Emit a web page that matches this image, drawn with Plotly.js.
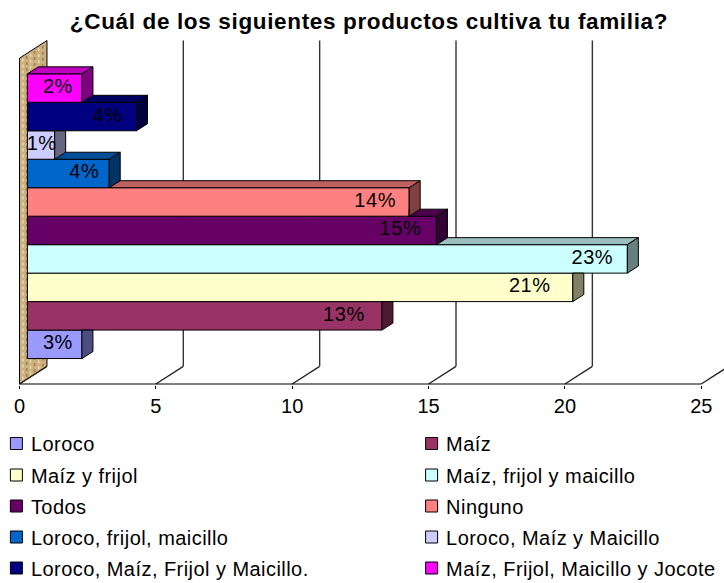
<!DOCTYPE html>
<html><head><meta charset="utf-8">
<script src="https://cdn.plot.ly/plotly-3.0.1.min.js"></script>
<style>html,body{margin:0;padding:0;background:#fff}
text[class*="legend"]{transform:translateX(-5.5px);letter-spacing:.45px}
.textpoint text{letter-spacing:.6px}
.gtitle{letter-spacing:.65px}
</style></head>
<body><div id="chart" style="width:724px;height:583px"></div>
<script>
const categories = ["Loroco","Maíz","Maíz y frijol","Maíz, frijol y maicillo","Todos","Ninguno","Loroco, frijol, maicillo","Loroco, Maíz y Maicillo","Loroco, Maíz, Frijol y Maicillo.","Maíz, Frijol, Maicillo y Jocote"];
const values = [2,13,20,22,15,14,3,1,4,2];
const percentLabels = ["3%","13%","21%","23%","15%","14%","4%","1%","4%","2%"];
const frontColors = ["#9999FF","#993366","#FFFFCC","#CCFFFF","#660066","#FF8080","#0066CC","#CCCCFF","#000080","#FF00FF"];
const topColors = ["#7373BF","#732640","#BFBF99","#99BFBF","#4D004D","#BF6060","#004D99","#9999BF","#000060","#BF00BF"];
const sideColors = ["#4D4D80","#4D1A33","#808066","#668080","#330033","#804040","#003366","#666680","#000040","#800080"];
const xTicks = [0,5,10,15,20,25];
const labelInsetPx = [24,38,43,35,36,34,25,13,29,24];

// scale: 27.27 px per axis unit, 28.47 px per band
const PXX = 27.27, PXY = 28.47;
const floorY = -1.394, wallTopFront = 10.05;
const depthX = 1.007, depthY = 0.62;
const barStart = 0.29, barDepthX = 0.403, barDepthY = 0.246, half = 0.5;

const traces = [];
// front faces: real bars
values.forEach((v,i)=>{
  traces.push({type:'bar',orientation:'h',x:[v],y:[i],base:[barStart],width:[2*half],name:categories[i],
    marker:{color:frontColors[i],line:{color:'#000',width:1}},
    legend:i===0?'legend':'legend'+(i+1),hoverinfo:'name+x'});
});
// top and side faces, bottom bar first
values.forEach((v,i)=>{
  const x1=v+barStart, yb=i-half, yt=i+half;
  const up = i<values.length-1 ? values[i+1]+barStart : null;
  let tx=null, ty=null;
  if(up===null){
    tx=[barStart,x1,x1+barDepthX,barStart+barDepthX,barStart]; ty=[yt,yt,yt+barDepthY,yt+barDepthY,yt];
  } else if(up<x1){
    tx=[up,x1,x1+barDepthX,up,up]; ty=[yt,yt,yt+barDepthY,yt+barDepthY,yt];
  }
  if(tx) traces.push({type:'scatter',mode:'lines',x:tx,y:ty,fill:'toself',fillcolor:topColors[i],
    line:{color:'#000',width:1},showlegend:false,hoverinfo:'skip'});
  const clipped = up!==null && up>x1;
  const sy = clipped ? [yb,yb+barDepthY,yt,yt,yb] : [yb,yb+barDepthY,yt+barDepthY,yt,yb];
  traces.push({type:'scatter',mode:'lines',x:[x1,x1+barDepthX,x1+barDepthX,x1,x1],y:sy,fill:'toself',fillcolor:sideColors[i],
    line:{color:'#000',width:1},showlegend:false,hoverinfo:'skip'});
});
// data labels
traces.push({type:'scatter',mode:'text',showlegend:false,hoverinfo:'skip',
  x:values.map((v,i)=>v+barStart-labelInsetPx[i]/PXX),y:values.map((v,i)=>i),text:percentLabels,
  textposition:'middle center',textfont:{family:'Liberation Sans',size:20,color:'#000'}});

// back wall and grid
const shapes = [];
const wallPath = `M0,${floorY}L${depthX},${floorY+depthY}L${depthX},${wallTopFront+depthY}L0,${wallTopFront}Z`;
shapes.push({type:'path',xref:'x',yref:'y',path:wallPath,fillcolor:'#CDB080',line:{color:'#000',width:1},layer:'below'});
[0.12,0.26,0.4,0.55,0.7,0.85].forEach((f,k)=>{
  shapes.push({type:'line',xref:'x',yref:'y',layer:'below',x0:f*depthX,x1:f*depthX,
    y0:floorY+f*depthY+0.08,y1:wallTopFront+f*depthY-0.08,line:{color:k%2?'#9C7F4E':'#EADBB8',width:1.5,dash:'dot'}});
});
xTicks.forEach(t=>{
  shapes.push({type:'line',xref:'x',yref:'y',layer:'below',x0:t,x1:t+depthX,y0:floorY,y1:floorY+depthY,line:{color:'#222',width:1.3}});
  if(t>0) shapes.push({type:'line',xref:'x',yref:'y',layer:'below',x0:t+depthX,x1:t+depthX,y0:floorY+depthY,y1:wallTopFront+depthY,line:{color:'#333',width:1.4}});
});
shapes.push({type:'line',xref:'x',yref:'y',layer:'below',x0:0,x1:25,y0:floorY,y1:floorY,line:{color:'#000',width:1.2}});

const layout = {
  width:724,height:583,paper_bgcolor:'#fff',plot_bgcolor:'#fff',barmode:'overlay',showlegend:true,
  margin:{l:0,r:0,t:0,b:198,autoexpand:false},
  title:{text:'¿Cuál de los siguientes productos cultiva tu familia?',font:{family:'Liberation Sans',size:22.5,color:'#000',weight:'bold'},
    x:369/724,xanchor:'center',y:1-21/583,yanchor:'middle'},
  xaxis:{range:[-19.5/PXX,(724-19.5)/PXX],tickvals:xTicks,ticktext:xTicks.map(String),showgrid:false,zeroline:false,showline:false,
    ticks:'outside',ticklen:3,tickcolor:'#000',ticklabelstandoff:0,tickfont:{family:'Liberation Sans',size:20,color:'#000'}},
  yaxis:{range:[(344.3-385)/PXY,344.3/PXY],visible:false,fixedrange:true},
  shapes
};
const colX=[-0.005,0.5685], rowY=[443.5,475,506,537,568];
values.forEach((v,i)=>{
  const key=i===0?'legend':'legend'+(i+1);
  const col=i%2,row=Math.floor(i/2);
  layout[key]={x:colX[col],xanchor:'left',y:(385-rowY[row])/385,yanchor:'middle',bgcolor:'rgba(0,0,0,0)',
    font:{family:'Liberation Sans',size:20,color:'#000'},borderwidth:0};
});
Plotly.newPlot('chart',traces,layout,{displayModeBar:false,staticPlot:true});
</script></body></html>
